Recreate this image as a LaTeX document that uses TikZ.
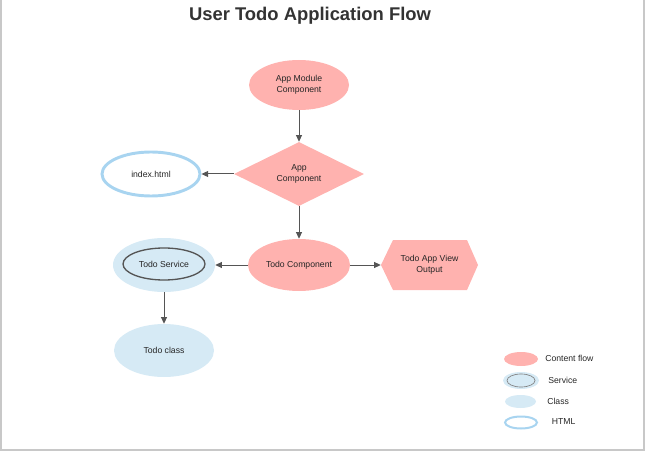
\documentclass[tikz,border=0pt]{standalone}
\usepackage{fontspec}
\setmainfont{Liberation Sans}
\usetikzlibrary{shapes.geometric,arrows.meta}
\definecolor{pinkfill}{RGB}{255,178,175}
\definecolor{bluefill}{RGB}{214,234,245}
\definecolor{blueline}{RGB}{168,212,240}
\definecolor{arrowc}{RGB}{85,85,85}
\definecolor{framec}{RGB}{200,200,200}
\definecolor{titlec}{RGB}{51,51,51}
\tikzset{
  txt/.style={font=\fontsize{6.5}{8.25}\selectfont, text=black!85, align=center},
  pinkell/.style={ellipse, fill=pinkfill, inner sep=0pt, txt},
  classell/.style={ellipse, fill=bluefill, inner sep=0pt, txt},
  htmlell/.style={ellipse, draw=blueline, line width=2.2pt, fill=white, inner sep=0pt, txt},
  servinner/.style={ellipse, draw=arrowc, line width=1pt, inner sep=0pt, txt},
  flow/.style={draw=arrowc, line width=0.75pt, -{Triangle[length=5pt,width=4.5pt]}},
  legtxt/.style={font=\fontsize{6.5}{8}\selectfont, text=black!85, anchor=west, inner sep=0pt}
}
\begin{document}
\begin{tikzpicture}[x=0.75pt,y=-0.75pt]
\useasboundingbox (0,0) rectangle (645,452);
% frame
\draw[framec, line width=1.5pt] (1,0) -- (1,450) -- (643.5,450) -- (643.5,0);
% title
\node[font=\bfseries\fontsize{13.8}{16}\selectfont, text=titlec] (title) at (310,16) {User Todo Application Flow};
% nodes
\node[pinkell, minimum width=75pt, minimum height=37.5pt] (appmod) at (299,85) {App Module\\Component};
\node[diamond, fill=pinkfill, inner sep=0pt, minimum width=97.5pt, minimum height=48pt, txt] (appcomp) at (299,174) {App\\Component};
\node[htmlell, minimum width=73.5pt, minimum height=33pt] (index) at (151,174) {index.html};
\node[pinkell, minimum width=76.5pt, minimum height=39pt] (todocomp) at (299,265) {Todo Component};
\node[classell, minimum width=76.5pt, minimum height=40.5pt] (service) at (164,265) {};
\node[servinner, minimum width=61.5pt, minimum height=24pt] (serviceinner) at (164,264) {Todo Service};
\fill[pinkfill] (381,265) -- (393,240) -- (467,240) -- (478,265) -- (467,290) -- (393,290) -- cycle;
\node[txt, minimum width=72.75pt, minimum height=37.5pt, inner sep=0pt] (hex) at (429.5,265) {Todo App View\\Output};
\node[classell, minimum width=75pt, minimum height=39.75pt] (todoclass) at (164,350.5) {Todo class};
% connectors
\draw[flow] (appmod) -- (appcomp);
\draw[flow] (appcomp.west) -- (index.east);
\draw[flow] (appcomp.south) -- (todocomp.north);
\draw[flow] (todocomp.west) -- (service.east);
\draw[flow] (todocomp.east) -- (hex.west);
\draw[flow] (service.south) -- (todoclass.north);
% legend
\node[pinkell, minimum width=25.5pt, minimum height=10.5pt] (lg1) at (521,359) {};
\node[legtxt] (lt1) at (545,358) {Content flow};
\node[classell, minimum width=27pt, minimum height=12.75pt] (lg2) at (521,380.5) {};
\node[servinner, draw=gray, line width=0.5pt, minimum width=21pt, minimum height=9.75pt] (lg2i) at (521,380.5) {};
\node[legtxt] (lt2) at (548,380) {Service};
\node[classell, minimum width=23.25pt, minimum height=9.75pt] (lg3) at (520.5,401.5) {};
\node[legtxt] (lt3) at (547,401) {Class};
\node[htmlell, line width=1.5pt, minimum width=24pt, minimum height=9pt] (lg4) at (521,422.5) {};
\node[legtxt] (lt4) at (551.5,422) {HTML};
\end{tikzpicture}
\end{document}
